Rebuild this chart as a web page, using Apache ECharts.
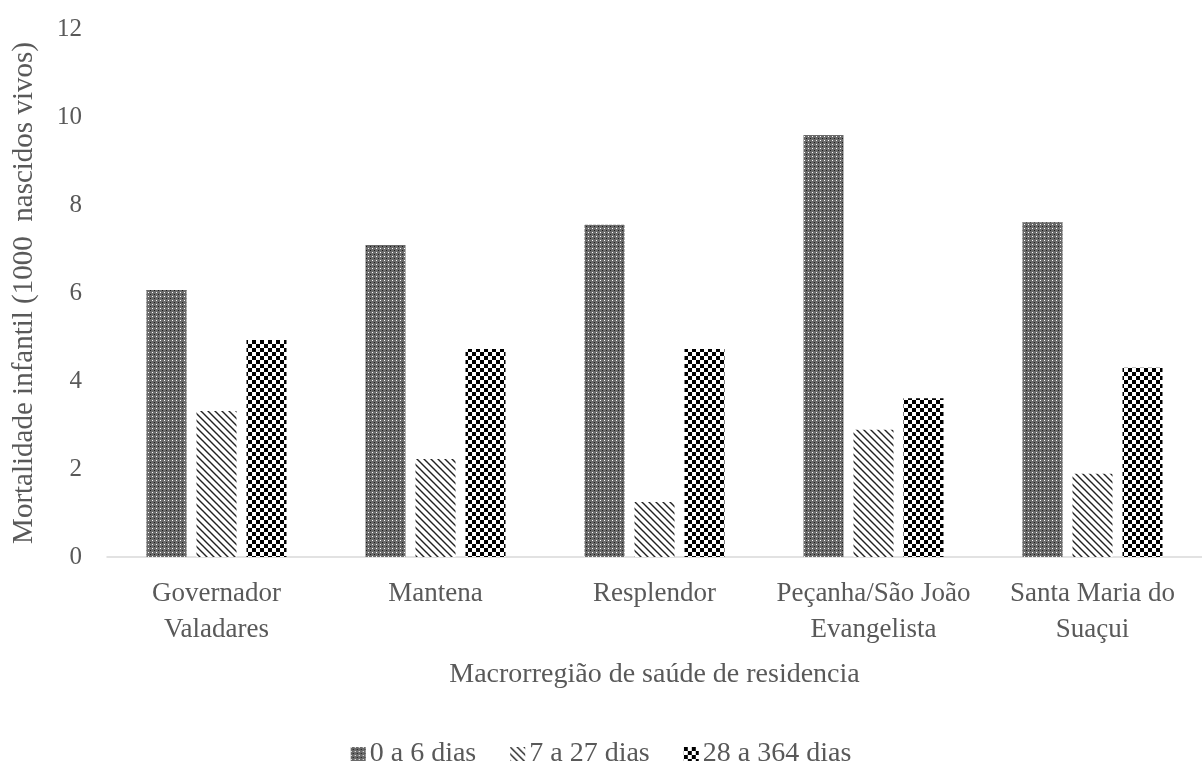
<!DOCTYPE html>
<html>
<head>
<meta charset="utf-8">
<script src="https://cdn.jsdelivr.net/npm/echarts@6/dist/echarts.min.js"></script>
<style>
  html, body { margin: 0; padding: 0; background: #fff; }
  #chart { width: 1202px; height: 763px; }
</style>
</head>
<body>
<div id="chart"></div>
<script>
const categories = ['Governador\nValadares', 'Mantena', 'Resplendor', 'Peçanha/São João\nEvangelista', 'Santa Maria do\nSuaçui']
const seriesNames = ['0 a 6 dias', '7 a 27 dias', '28 a 364 dias']
const early = [6.07, 7.09, 7.55, 9.59, 7.61]
const late = [3.32, 2.23, 1.25, 2.89, 1.89]
const postnatal = [4.93, 4.73, 4.73, 3.61, 4.30]
const yTicks = [0, 2, 4, 6, 8, 10, 12]

// small canvas tiles used as fill patterns
function tile(size, draw) {
  const c = document.createElement('canvas')
  c.width = size
  c.height = size
  const ctx = c.getContext('2d')
  draw(ctx)
  return { image: c, repeat: 'repeat' }
}

const dotted = tile(4, (ctx) => {
  ctx.fillStyle = '#6a6a6a'
  ctx.fillRect(0, 0, 4, 4)
  ctx.fillStyle = '#ffffff'
  ctx.fillRect(0, 0, 1, 1)
  ctx.fillStyle = '#1a1a1a'
  ctx.fillRect(2, 2, 1, 1)
})

const hatched = tile(7, (ctx) => {
  ctx.fillStyle = '#ffffff'
  ctx.fillRect(0, 0, 7, 7)
  ctx.strokeStyle = '#222'
  ctx.lineWidth = 1.4
  ctx.beginPath()
  ctx.moveTo(-1, -1); ctx.lineTo(8, 8)
  ctx.moveTo(-8, -1); ctx.lineTo(1, 8)
  ctx.moveTo(6, -1); ctx.lineTo(15, 8)
  ctx.stroke()
})

const checker = tile(8, (ctx) => {
  ctx.fillStyle = '#ffffff'
  ctx.fillRect(0, 0, 8, 8)
  ctx.fillStyle = '#000000'
  ctx.fillRect(0, 0, 4, 4)
  ctx.fillRect(4, 4, 4, 4)
})

const font = 'Liberation Serif'
const grey = '#595959'

const chart = echarts.init(document.getElementById('chart'))
chart.setOption({
  animation: false,
  textStyle: { fontFamily: font, color: grey },
  grid: { left: 107, top: 29, width: 1106, height: 528, containLabel: false },
  legend: {
    top: 735,
    left: 'center',
    icon: 'rect',
    itemWidth: 15,
    itemHeight: 14,
    itemGap: 34,
    textStyle: { fontFamily: font, fontSize: 28, color: grey, padding: [0, 0, 0, -1] },
    data: seriesNames
  },
  xAxis: {
    type: 'category',
    data: categories,
    axisLine: { lineStyle: { color: '#d9d9d9', width: 1.5 } },
    axisTick: { show: false },
    axisLabel: { fontFamily: font, fontSize: 27, color: grey, margin: 19, lineHeight: 36, interval: 0 },
    name: 'Macrorregião de saúde de residencia',
    nameLocation: 'middle',
    nameGap: 104,
    nameTextStyle: { fontFamily: font, fontSize: 28, color: grey, align: 'center' }
  },
  yAxis: {
    type: 'value',
    min: yTicks[0],
    max: yTicks[yTicks.length - 1],
    interval: 2,
    axisLine: { show: false },
    axisTick: { show: false },
    splitLine: { show: false },
    axisLabel: { fontFamily: font, fontSize: 25, color: grey, margin: 25 },
    name: 'Mortalidade infantil (1000  nascidos vivos)',
    nameLocation: 'middle',
    nameGap: 68,
    nameTextStyle: { fontFamily: font, fontSize: 29, color: grey }
  },
  series: [
    { name: seriesNames[0], type: 'bar', data: early, barWidth: 40, barGap: '25%', itemStyle: { color: dotted } },
    { name: seriesNames[1], type: 'bar', data: late, barWidth: 40, barGap: '25%', itemStyle: { color: hatched } },
    { name: seriesNames[2], type: 'bar', data: postnatal, barWidth: 40, barGap: '25%', itemStyle: { color: checker } }
  ]
})
</script>
</body>
</html>
